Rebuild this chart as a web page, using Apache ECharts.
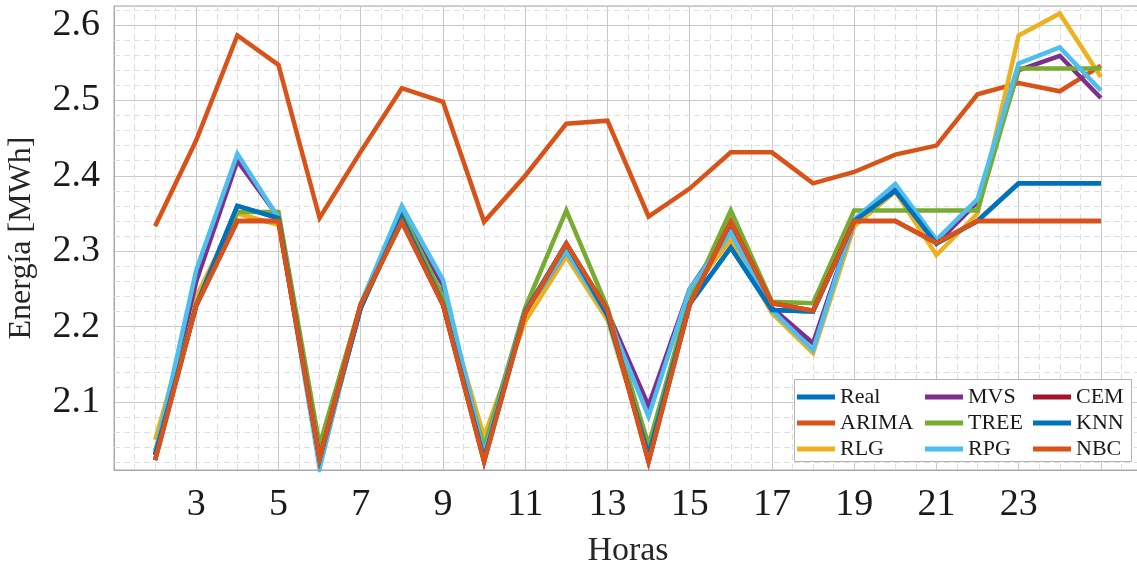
<!DOCTYPE html>
<html>
<head>
<meta charset="utf-8">
<script src="https://cdn.jsdelivr.net/npm/echarts@6/dist/echarts.min.js"></script>
<style>
  html, body { margin: 0; padding: 0; background: #fff; }
  #chart { width: 1137px; height: 568px; }
</style>
</head>
<body>
<div id="chart"></div>
<script>
// Hours of the day shown on the horizontal axis
const hours = [2, 3, 4, 5, 6, 7, 8, 9, 10, 11, 12, 13, 14, 15, 16, 17, 18, 19, 20, 21, 22, 23, 24, 25];

// Energy per hour [MWh] for the measured profile and each forecasting model
const real  = [2.030, 2.228, 2.360, 2.344, 2.025, 2.225, 2.345, 2.230, 2.025, 2.220, 2.310, 2.215, 2.030, 2.230, 2.305, 2.222, 2.220, 2.340, 2.380, 2.310, 2.340, 2.390, 2.390, 2.390];
const arima = [2.333, 2.447, 2.586, 2.547, 2.344, 2.432, 2.516, 2.498, 2.339, 2.400, 2.469, 2.473, 2.346, 2.383, 2.431, 2.431, 2.390, 2.405, 2.428, 2.440, 2.508, 2.523, 2.512, 2.546];
const rlg   = [2.050, 2.240, 2.350, 2.335, 2.040, 2.225, 2.345, 2.240, 2.054, 2.207, 2.293, 2.209, 2.030, 2.245, 2.315, 2.218, 2.165, 2.333, 2.379, 2.295, 2.350, 2.586, 2.615, 2.531];
const mvs   = [2.030, 2.260, 2.420, 2.345, 2.020, 2.225, 2.350, 2.255, 2.030, 2.220, 2.300, 2.220, 2.095, 2.250, 2.330, 2.225, 2.178, 2.340, 2.382, 2.310, 2.365, 2.540, 2.559, 2.503];
const tree  = [2.035, 2.230, 2.352, 2.352, 2.043, 2.230, 2.350, 2.240, 2.039, 2.225, 2.354, 2.225, 2.043, 2.235, 2.354, 2.233, 2.231, 2.354, 2.354, 2.354, 2.354, 2.542, 2.542, 2.542];
const rpg   = [2.030, 2.275, 2.429, 2.344, 2.012, 2.230, 2.360, 2.262, 2.030, 2.220, 2.300, 2.215, 2.081, 2.250, 2.325, 2.222, 2.169, 2.342, 2.389, 2.315, 2.369, 2.549, 2.570, 2.513];
const cem   = [2.023, 2.228, 2.340, 2.340, 2.025, 2.229, 2.339, 2.229, 2.021, 2.218, 2.310, 2.222, 2.021, 2.229, 2.339, 2.231, 2.221, 2.340, 2.340, 2.311, 2.340, 2.340, 2.340, 2.340];
const knn   = [2.030, 2.228, 2.360, 2.344, 2.025, 2.225, 2.345, 2.230, 2.025, 2.220, 2.310, 2.215, 2.030, 2.230, 2.305, 2.222, 2.220, 2.340, 2.380, 2.310, 2.340, 2.390, 2.390, 2.390];
const nbc   = [2.023, 2.228, 2.340, 2.340, 2.025, 2.229, 2.339, 2.229, 2.021, 2.218, 2.310, 2.222, 2.021, 2.229, 2.339, 2.231, 2.221, 2.340, 2.340, 2.311, 2.340, 2.340, 2.340, 2.340];

// Legend columns
const legendCols = [
  ['Real', 'ARIMA', 'RLG'],
  ['MVS', 'TREE', 'RPG'],
  ['CEM', 'KNN', 'NBC']
];

const seriesDefs = [
  { name: 'Real',  values: real,  color: '#0072BD' },
  { name: 'ARIMA', values: arima, color: '#D95319' },
  { name: 'RLG',   values: rlg,   color: '#EDB120' },
  { name: 'MVS',   values: mvs,   color: '#7E2F8E' },
  { name: 'TREE',  values: tree,  color: '#77AC30' },
  { name: 'RPG',   values: rpg,   color: '#4DBEEE' },
  { name: 'CEM',   values: cem,   color: '#A2142F' },
  { name: 'KNN',   values: knn,   color: '#0072BD' },
  { name: 'NBC',   values: nbc,   color: '#D95319' }
];

const X_MIN = 1, X_MAX = 26;
const Y_MIN = 2.01, Y_MAX = 2.625;
const FONT = '"Liberation Serif", "Times New Roman", serif';

// Dashed minor grid positions: every half hour and every 0.02 MWh
const minorX = [];
for (let k = 3; k <= 51; k++) {
  const v = k / 2;
  if (!(Number.isInteger(v) && v % 2 === 1)) minorX.push(v);
}
const minorY = [];
for (let k = 101; k <= 131; k++) {
  if (k % 5 !== 0) minorY.push(+(k * 0.02).toFixed(2));
}

const minorStyle = { color: '#dedede', width: 1, type: [6, 4] };

const series = [{
  name: '_grid',
  type: 'line',
  data: [],
  z: 1,
  silent: true,
  markLine: {
    silent: true,
    z: 1,
    symbol: ['none', 'none'],
    label: { show: false },
    animation: false,
    lineStyle: minorStyle,
    emphasis: { disabled: true },
    data: minorX.map(v => ({ xAxis: v })).concat(minorY.map(v => ({ yAxis: v })))
  }
}];

seriesDefs.forEach((s, i) => {
  series.push({
    name: s.name,
    type: 'line',
    data: hours.map((h, j) => [h, s.values[j]]),
    showSymbol: false,
    symbol: 'none',
    z: 3 + i,
    lineStyle: { color: s.color, width: 4.5, join: 'miter', cap: 'butt' },
    itemStyle: { color: s.color },
    animation: false
  });
});

const legends = legendCols.map((names, c) => ({
  data: names,
  orient: 'vertical',
  left: [797, 925, 1033][c],
  top: 386,
  itemWidth: 38,
  itemHeight: 5,
  itemGap: 4,
  icon: 'rect',
  selectedMode: false,
  padding: 0,
  z: 60,
  textStyle: { fontFamily: FONT, fontSize: 22, color: '#1a1a1a', lineHeight: 22 }
}));

const chart = echarts.init(document.getElementById('chart'), null, { renderer: 'canvas' });
chart.setOption({
  animation: false,
  backgroundColor: '#ffffff',
  graphic: [{
    type: 'rect',
    left: 794, top: 379,
    shape: { width: 337, height: 82 },
    style: { fill: '#ffffff', stroke: '#b4b4b4', lineWidth: 1 },
    z: 50
  }],
  legend: legends,
  grid: {
    left: 114, right: -5, top: 6, bottom: 98,
    containLabel: false,
    outerBoundsMode: 'none',
    show: true, borderColor: '#a8a8a8', borderWidth: 1, backgroundColor: 'transparent'
  },
  xAxis: {
    type: 'value',
    min: X_MIN, max: X_MAX, interval: 2,
    name: 'Horas',
    nameLocation: 'middle',
    nameGap: 64,
    nameTextStyle: { fontFamily: FONT, fontSize: 34, color: '#262626' },
    axisLine: { show: true, lineStyle: { color: '#a8a8a8' } },
    axisTick: { show: false },
    axisLabel: {
      fontFamily: FONT, fontSize: 38, color: '#1a1a1a', margin: 16,
      formatter: v => (v >= 3 && v <= 23) ? String(v) : ''
    },
    splitLine: { show: true, lineStyle: { color: '#c8c8c8', width: 1 } }
  },
  yAxis: {
    type: 'value',
    min: Y_MIN, max: Y_MAX,
    name: 'Energía [MWh]',
    nameLocation: 'middle',
    nameGap: 76,
    nameRotate: 90,
    nameTextStyle: { fontFamily: FONT, fontSize: 32, color: '#262626' },
    axisLine: { show: true, lineStyle: { color: '#a8a8a8' } },
    axisTick: { show: false },
    axisLabel: {
      fontFamily: FONT, fontSize: 38, color: '#1a1a1a', margin: 14,
      showMinLabel: false, showMaxLabel: false,
      formatter: v => v.toFixed(1)
    },
    splitLine: { show: true, lineStyle: { color: '#c8c8c8', width: 1 } }
  },
  series: series
});
</script>
</body>
</html>
